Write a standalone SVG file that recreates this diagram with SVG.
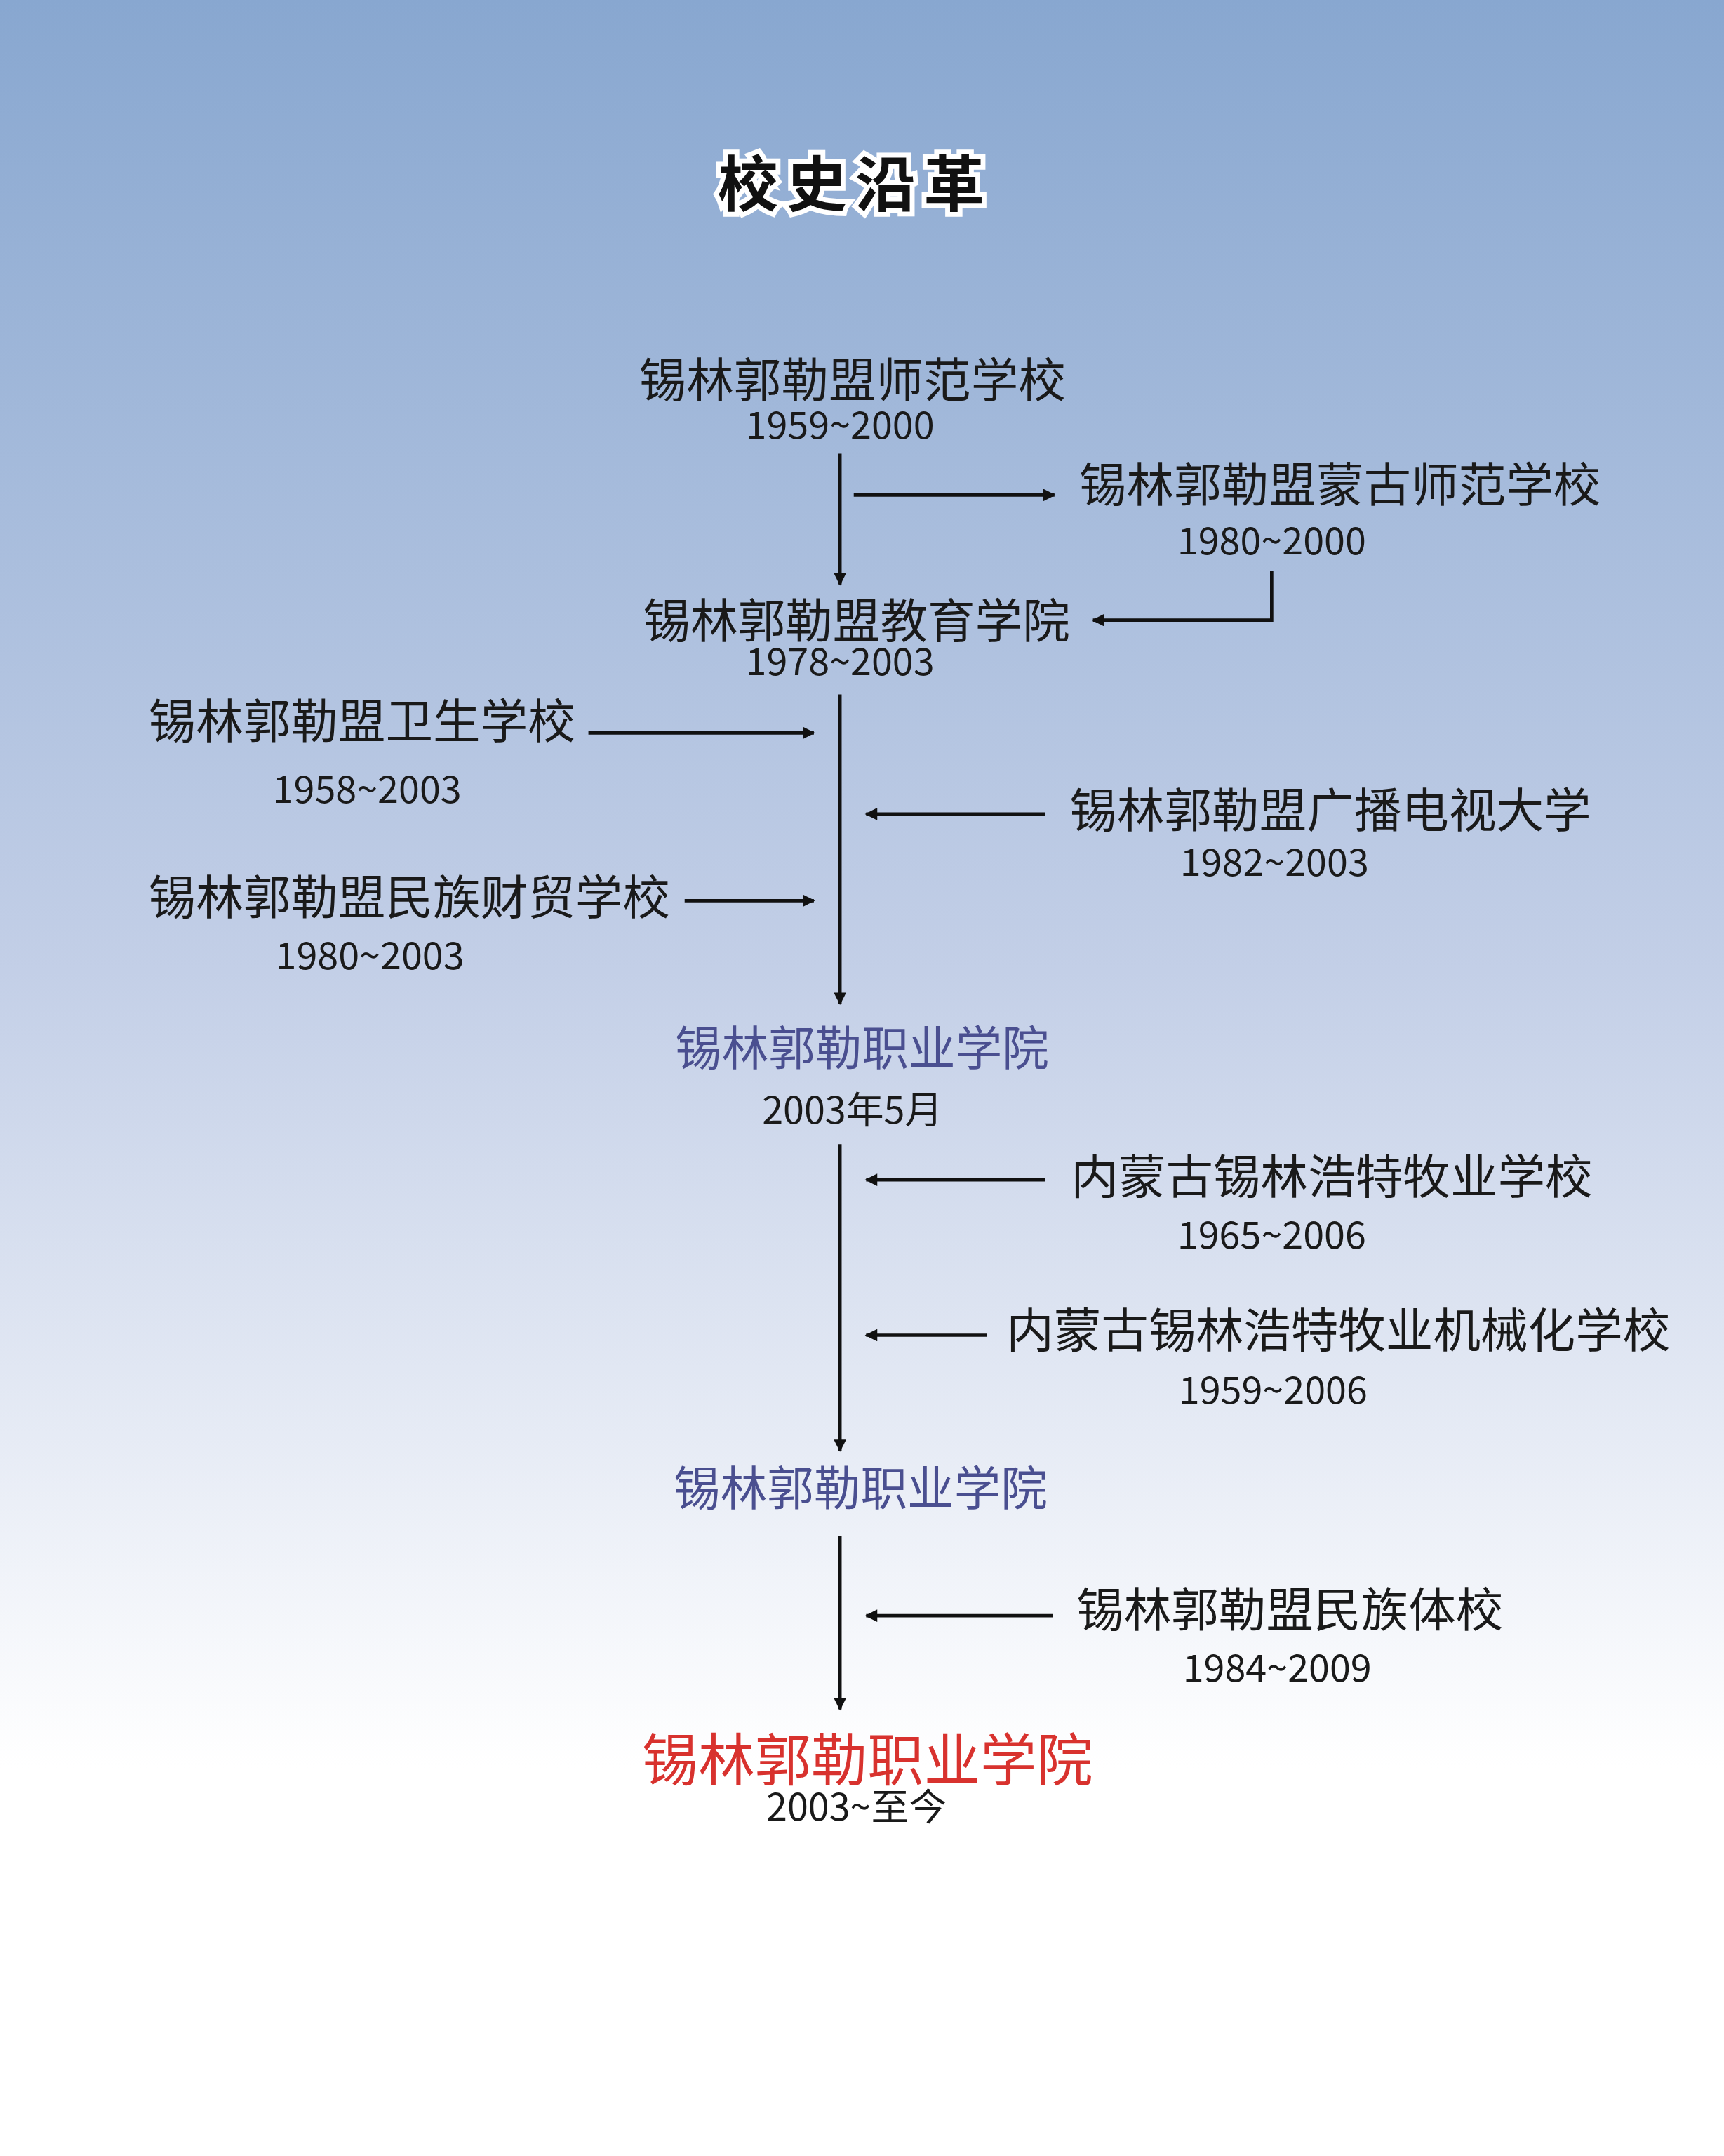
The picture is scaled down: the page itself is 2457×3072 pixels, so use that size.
<svg xmlns="http://www.w3.org/2000/svg" width="2457" height="3072" viewBox="0 0 2457 3072">
<defs>
<linearGradient id="bg" x1="0" y1="0" x2="0" y2="1">
<stop offset="0" stop-color="#88a7d0"/>
<stop offset="0.45" stop-color="#c3cfe7"/>
<stop offset="0.82" stop-color="#ffffff"/>
<stop offset="1" stop-color="#ffffff"/>
</linearGradient>
<marker id="ah" viewBox="0 0 10 10" refX="9" refY="5" markerWidth="11" markerHeight="9" orient="auto" markerUnits="userSpaceOnUse">
<path d="M0,0 L10,5 L0,10 z" fill="#111"/>
</marker>
<style>
text{font-family:"Noto Sans CJK SC","Noto Sans",sans-serif;fill:#1a1a1a}
.n{font-size:34.5px}
.d{font-size:27.5px}
.p{fill:#4a4f90;font-size:34px}
.r{fill:#d8322e;font-size:41px}
.c line,.c path{stroke:#111;stroke-width:2.4;fill:none}
</style>
</defs>
<rect width="2457" height="3072" fill="url(#bg)"/>
<g transform="scale(1.9593)">
<g id="c" class="c">
<line x1="611" y1="330" x2="611" y2="425" marker-end="url(#ah)"/>
<line x1="621" y1="360" x2="767" y2="360" marker-end="url(#ah)"/>
<path d="M925,415 V451 H795" marker-end="url(#ah)"/>
<line x1="611" y1="505" x2="611" y2="730" marker-end="url(#ah)"/>
<line x1="428" y1="533" x2="592" y2="533" marker-end="url(#ah)"/>
<line x1="760" y1="592" x2="630" y2="592" marker-end="url(#ah)"/>
<line x1="498" y1="655" x2="592" y2="655" marker-end="url(#ah)"/>
<line x1="611" y1="832" x2="611" y2="1055" marker-end="url(#ah)"/>
<line x1="760" y1="858" x2="630" y2="858" marker-end="url(#ah)"/>
<line x1="718" y1="971" x2="630" y2="971" marker-end="url(#ah)"/>
<line x1="611" y1="1117" x2="611" y2="1243" marker-end="url(#ah)"/>
<line x1="766" y1="1175" x2="630" y2="1175" marker-end="url(#ah)"/>
</g>
<g id="title"><text x="622" y="150" text-anchor="middle" font-size="44" font-weight="bold" style="fill:#111;stroke:#fff;stroke-width:7;paint-order:stroke;letter-spacing:6px">校史沿革</text></g>
<g id="n1"><text class="n" x="620" y="289" text-anchor="middle">锡林郭勒盟师范学校</text><text class="d" x="611" y="319" text-anchor="middle">1959~2000</text></g>
<g id="n2"><text class="n" x="785" y="365">锡林郭勒盟蒙古师范学校</text><text class="d" x="925" y="403" text-anchor="middle">1980~2000</text></g>
<g id="n3"><text class="n" x="623" y="464" text-anchor="middle">锡林郭勒盟教育学院</text><text class="d" x="611" y="491" text-anchor="middle">1978~2003</text></g>
<g id="n4"><text class="n" x="108" y="537">锡林郭勒盟卫生学校</text><text class="d" x="267" y="584" text-anchor="middle">1958~2003</text></g>
<g id="n5"><text class="n" x="778" y="602">锡林郭勒盟广播电视大学</text><text class="d" x="927" y="637" text-anchor="middle">1982~2003</text></g>
<g id="n6"><text class="n" x="108" y="665">锡林郭勒盟民族财贸学校</text><text class="d" x="269" y="705" text-anchor="middle">1980~2003</text></g>
<g id="n7"><text class="p" x="627" y="775" text-anchor="middle">锡林郭勒职业学院</text><text class="d" x="620" y="817" text-anchor="middle">2003年5月</text></g>
<g id="n8"><text class="n" x="779" y="868">内蒙古锡林浩特牧业学校</text><text class="d" x="925" y="908" text-anchor="middle">1965~2006</text></g>
<g id="n9"><text class="n" x="732" y="980">内蒙古锡林浩特牧业机械化学校</text><text class="d" x="926" y="1021" text-anchor="middle">1959~2006</text></g>
<g id="n10"><text class="p" x="626" y="1095" text-anchor="middle">锡林郭勒职业学院</text></g>
<g id="n11"><text class="n" x="783" y="1183">锡林郭勒盟民族体校</text><text class="d" x="929" y="1223" text-anchor="middle">1984~2009</text></g>
<g id="n12"><text class="r" x="631" y="1295" text-anchor="middle">锡林郭勒职业学院</text><text class="d" x="623" y="1324" text-anchor="middle">2003~至今</text></g>
</g>
</svg>
